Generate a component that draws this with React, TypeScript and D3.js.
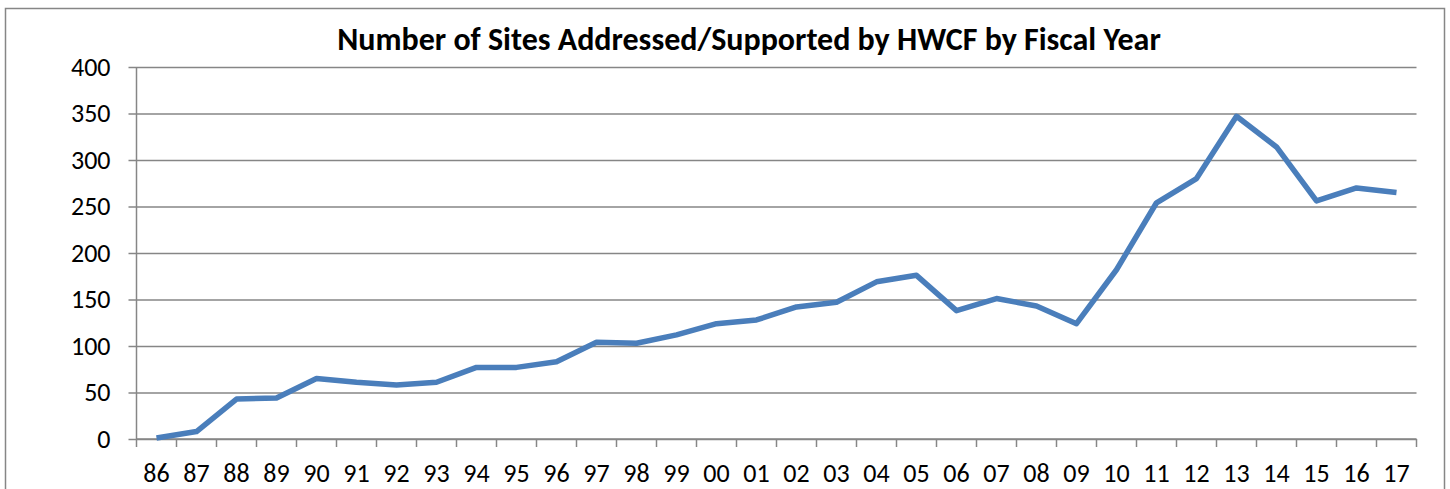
import * as d3 from 'd3';
import React, { useRef, useEffect } from 'react';

// fiscal years (two-digit)
const years = ['86','87','88','89','90','91','92','93','94','95','96','97','98','99','00','01','02','03','04','05','06','07','08','09','10','11','12','13','14','15','16','17'];
// sites addressed / supported per year
const sites = [1, 8, 43, 44, 65, 61, 58, 61, 77, 77, 83, 104, 103, 112, 124, 128, 142, 147, 169, 176, 138, 151, 143, 124, 182, 254, 280, 347, 314, 256, 270, 265];
const yTicks = [0, 50, 100, 150, 200, 250, 300, 350, 400];

const title = 'Number of Sites Addressed/Supported by HWCF by Fiscal Year';

export default function App() {
  const ref = useRef<SVGSVGElement>(null);

  useEffect(() => {
    const W = 1450, H = 489;
    const m = { left: 136.5, right: 1416.5, top: 67, bottom: 439 };
    const svg = d3.select(ref.current);
    svg.selectAll('*').remove();
    const font = "Carlito, Calibri, 'Open Sans', sans-serif";
    const grid = '#868686';

    svg.append('rect').attr('x', 0).attr('y', 0).attr('width', W).attr('height', H).attr('fill', '#fff');
    // outer chart border
    svg.append('rect').attr('x', 5.5).attr('y', 8.5).attr('width', 1439).attr('height', 500)
      .attr('fill', 'none').attr('stroke', grid).attr('stroke-width', 1.5);

    const x = d3.scaleBand().domain(years).range([m.left, m.right]);
    const y = d3.scaleLinear().domain([0, 400]).range([m.bottom, m.top]);

    // gridlines + y ticks
    const yAxis = d3.axisLeft(y).tickValues(yTicks).tickSize(-(m.right - m.left)).tickPadding(26);
    const gy = svg.append('g').attr('transform', `translate(${m.left},0)`).call(yAxis);
    gy.select('.domain').remove();
    gy.selectAll('.tick line').attr('stroke', grid).attr('stroke-width', 1.5).attr('x1', -8);
    gy.selectAll('.tick text').attr('font-family', font).attr('font-size', 26).attr('fill', '#000');

    // y axis line
    svg.append('line').attr('x1', m.left).attr('x2', m.left).attr('y1', m.top).attr('y2', m.bottom)
      .attr('stroke', grid).attr('stroke-width', 1.5);

    // x axis: ticks at category boundaries
    svg.append('line').attr('x1', m.left).attr('x2', m.right).attr('y1', m.bottom).attr('y2', m.bottom)
      .attr('stroke', grid).attr('stroke-width', 1.5);
    const bounds = years.map(d => x(d)!).concat([m.right]);
    svg.append('g').selectAll('line').data(bounds).join('line')
      .attr('x1', d => d).attr('x2', d => d).attr('y1', m.bottom).attr('y2', m.bottom + 8)
      .attr('stroke', grid).attr('stroke-width', 1.5);
    svg.append('g').selectAll('text').data(years).join('text')
      .attr('x', d => x(d)! + x.bandwidth() / 2).attr('y', 482)
      .attr('text-anchor', 'middle').attr('font-family', font).attr('font-size', 26).attr('fill', '#000')
      .text(d => d);

    // line
    const ln = d3.line<number>().x((_, i) => x(years[i])! + x.bandwidth() / 2).y(d => y(d));
    svg.append('path').datum(sites).attr('d', ln).attr('fill', 'none')
      .attr('stroke', '#4A7EBB').attr('stroke-width', 5.5).attr('stroke-linejoin', 'round');

    svg.append('text').attr('x', 749).attr('y', 50).attr('text-anchor', 'middle')
      .attr('font-family', font).attr('font-weight', 'bold').attr('font-size', 32).attr('fill', '#000')
      .text(title);
  }, []);

  return <svg ref={ref} width={1450} height={489} style={{ position: 'absolute', left: 0, top: 0 }} />;
}
